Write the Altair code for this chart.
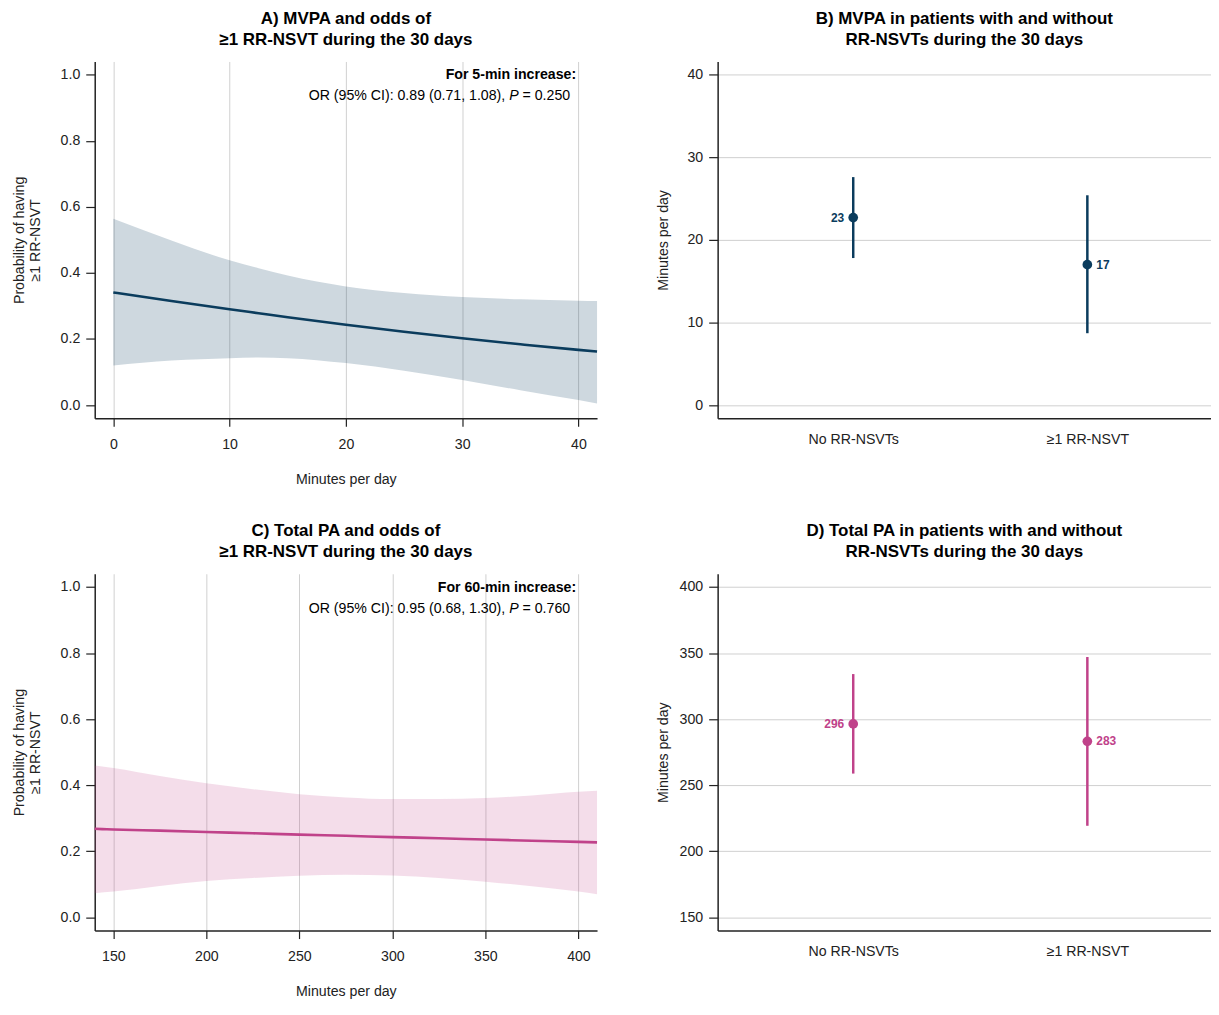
import altair as alt
import pandas as pd

FONT = "Liberation Sans"
NAVY = "#0b3c5d"
PINK = "#c0428a"
GRID = "#d0d0d0"
AX = "#222222"

# ---------- Panel A: MVPA vs probability ----------
a_x = [0, 5, 10, 12.5, 15, 20, 25, 30, 35, 40, 41.6]
a_fit = [0.341, 0.315, 0.290, 0.278, 0.266, 0.243, 0.222, 0.202, 0.184, 0.167, 0.162]
a_hi = [0.564, 0.498, 0.438, 0.414, 0.392, 0.359, 0.339, 0.327, 0.320, 0.316, 0.315]
a_lo = [0.120, 0.135, 0.142, 0.144, 0.142, 0.127, 0.104, 0.076, 0.045, 0.015, 0.005]

# ---------- Panel C: Total PA vs probability ----------
c_x = [140, 150, 175, 200, 225, 250, 275, 300, 325, 350, 375, 400, 410]
c_fit = [0.268, 0.266, 0.2625, 0.2585, 0.2545, 0.2505, 0.2468, 0.2430, 0.2393, 0.2356, 0.2320, 0.2285, 0.2271]
c_hi = [0.460, 0.452, 0.428, 0.406, 0.388, 0.373, 0.363, 0.358, 0.358, 0.361, 0.369, 0.380, 0.383]
c_lo = [0.073, 0.078, 0.095, 0.110, 0.119, 0.126, 0.129, 0.127, 0.119, 0.108, 0.094, 0.078, 0.070]

# ---------- Panels B & D: group means with 95% CI ----------
groups = ["No RR-NSVTs", "\u22651 RR-NSVT"]
b_mean = [22.7, 17.0]
b_lo = [17.8, 8.7]
b_hi = [27.6, 25.4]
b_lab = ["23", "17"]
d_mean = [296.4, 283.2]
d_lo = [258.8, 219.3]
d_hi = [334.1, 347.0]
d_lab = ["296", "283"]

prob_ticks = [0.0, 0.2, 0.4, 0.6, 0.8, 1.0]
a_ticks = [0, 10, 20, 30, 40]
c_ticks = [150, 200, 250, 300, 350, 400]
b_ticks = [0, 10, 20, 30, 40]
d_ticks = [150, 200, 250, 300, 350, 400]

W1, W2, H = 504, 495, 358
FS = 14.2


def mk_title(lines):
    return alt.TitleParams(text=lines, font=FONT, fontSize=17, fontWeight="bold",
                           lineHeight=21, color="black", frame="group",
                           anchor="middle", offset=13)


def line_panel(xs, fit, lo, hi, color, band_op, xdom, xticks, title, head, orpart, ptail):
    df = pd.DataFrame({"x": xs, "fit": fit, "lo": lo, "hi": hi})
    xenc = alt.X("x:Q", scale=alt.Scale(domain=xdom, nice=False, zero=False),
                 axis=alt.Axis(values=xticks, title="Minutes per day", grid=True,
                               gridColor=GRID, tickSize=8, labelPadding=11,
                               titlePadding=21))
    yenc = alt.Y("lo:Q", scale=alt.Scale(domain=[-0.04, 1.04], nice=False, zero=False),
                 axis=alt.Axis(values=prob_ticks, format=".1f", grid=False,
                               title=["Probability of having", "\u22651 RR-NSVT"],
                               titleLineHeight=15.5, tickSize=9, labelPadding=6,
                               titlePadding=18))
    band = alt.Chart(df).mark_area(color=color, opacity=band_op, interpolate="monotone").encode(
        x=xenc, y=yenc, y2="hi:Q")
    line = alt.Chart(df).mark_line(color=color, strokeWidth=2.6, interpolate="monotone").encode(
        x="x:Q", y=alt.Y("fit:Q"))
    R1 = 483
    R2 = 477
    t1 = alt.Chart(pd.DataFrame({"t": [head]})).mark_text(
        font=FONT, fontSize=FS, fontWeight="bold", align="right", baseline="alphabetic",
        color="black").encode(x=alt.value(R1), y=alt.value(18), text="t:N")
    w_tail = 3.364 * FS
    w_sp = 0.278 * FS
    w_p = 0.667 * FS
    t2 = alt.Chart(pd.DataFrame({"t": [ptail]})).mark_text(
        font=FONT, fontSize=FS, align="right", baseline="alphabetic",
        color="black").encode(x=alt.value(R2), y=alt.value(39), text="t:N")
    t3 = alt.Chart(pd.DataFrame({"t": ["P"]})).mark_text(
        font=FONT, fontSize=FS, fontStyle="italic", align="right", baseline="alphabetic",
        color="black").encode(x=alt.value(R2 - w_tail - w_sp), y=alt.value(39), text="t:N")
    t4 = alt.Chart(pd.DataFrame({"t": [orpart]})).mark_text(
        font=FONT, fontSize=FS, align="right", baseline="alphabetic",
        color="black").encode(x=alt.value(R2 - w_tail - 2 * w_sp - w_p), y=alt.value(39),
                              text="t:N")
    return alt.layer(band, line, t1, t2, t3, t4).properties(
        width=W1, height=H, title=mk_title(title))


def dot_panel(mean, lo, hi, labs, color, ydom, yticks, title, tpad):
    df = pd.DataFrame({"g": groups, "m": mean, "lo": lo, "hi": hi, "lab": labs})
    xenc = alt.X("g:N", sort=groups,
                 scale=alt.Scale(type="point", domain=groups, padding=0.5536, align=0.523),
                 axis=alt.Axis(title=None, ticks=False, grid=False, labelAngle=0,
                               labelPadding=14))
    yenc = alt.Y("lo:Q", scale=alt.Scale(domain=ydom, nice=False, zero=False),
                 axis=alt.Axis(values=yticks, grid=True, gridColor=GRID,
                               title="Minutes per day", tickSize=9, labelPadding=6,
                               titlePadding=tpad))
    rule = alt.Chart(df).mark_rule(color=color, strokeWidth=2.5).encode(
        x=xenc, y=yenc, y2="hi:Q")
    pt = alt.Chart(df).mark_point(filled=True, color=color, size=95, opacity=1).encode(
        x="g:N", y=alt.Y("m:Q"))
    lab_l = alt.Chart(df).transform_filter(alt.datum.g == groups[0]).mark_text(
        font=FONT, fontSize=12, fontWeight="bold", color=color, align="right",
        baseline="middle", dx=-9).encode(x="g:N", y="m:Q", text="lab:N")
    lab_r = alt.Chart(df).transform_filter(alt.datum.g == groups[1]).mark_text(
        font=FONT, fontSize=12, fontWeight="bold", color=color, align="left",
        baseline="middle", dx=9).encode(x="g:N", y="m:Q", text="lab:N")
    return alt.layer(rule, pt, lab_l, lab_r).properties(
        width=W2, height=H, title=mk_title(title))


A = line_panel(a_x, a_fit, a_lo, a_hi, NAVY, 0.2, [-1.6, 41.6], a_ticks,
               ["A) MVPA and odds of", "\u22651 RR-NSVT during the 30 days"],
               "For 5-min increase:", "OR (95% CI): 0.89 (0.71, 1.08),", "= 0.250")
C = line_panel(c_x, c_fit, c_lo, c_hi, PINK, 0.18, [140, 410], c_ticks,
               ["C) Total PA and odds of", "\u22651 RR-NSVT during the 30 days"],
               "For 60-min increase:", "OR (95% CI): 0.95 (0.68, 1.30),", "= 0.760")
B = dot_panel(b_mean, b_lo, b_hi, b_lab, NAVY, [-1.6, 41.6], b_ticks,
              ["B) MVPA in patients with and without", "RR-NSVTs during the 30 days"], 17)
D = dot_panel(d_mean, d_lo, d_hi, d_lab, PINK, [140, 410], d_ticks,
              ["D) Total PA in patients with and without", "RR-NSVTs during the 30 days"],
              17 - 7.9)

chart = alt.vconcat(
    alt.hconcat(A, B, spacing=53),
    alt.hconcat(C, D, spacing=53),
    spacing=35,
).properties(
    padding={"left": 4, "top": 0, "right": 0, "bottom": 0},
    background="white",
).configure_view(stroke=None).configure_axis(
    labelFont=FONT, titleFont=FONT, labelFontSize=FS, titleFontSize=FS,
    labelColor=AX, titleColor=AX, titleFontWeight="normal",
    domainColor=AX, domainWidth=1.5, tickColor=AX, tickWidth=1.2,
    gridWidth=1,
)

chart.save("out.html", embed_options={"renderer": "svg", "actions": False})
